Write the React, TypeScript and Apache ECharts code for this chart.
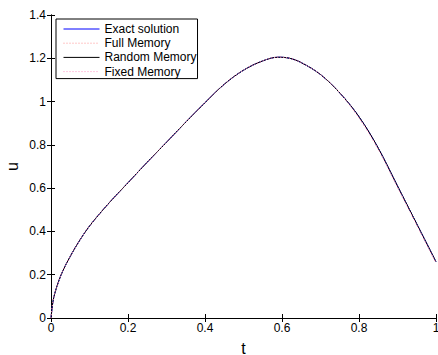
import React, { useEffect, useRef } from "react";
import * as echarts from "echarts";

// Solution u(t) sampled on [0, 1]
const tValues = [0, 0.005, 0.01, 0.02, 0.03, 0.05, 0.075, 0.1, 0.15, 0.2, 0.25, 0.3, 0.35, 0.4, 0.45, 0.5, 0.55, 0.59, 0.62, 0.65, 0.7, 0.75, 0.8, 0.85, 0.9, 0.95, 1.0];
const exactU = [0, 0.075, 0.115, 0.17, 0.215, 0.285, 0.36, 0.425, 0.53, 0.625, 0.72, 0.812, 0.905, 0.995, 1.08, 1.145, 1.188, 1.205, 1.2, 1.18, 1.125, 1.04, 0.93, 0.785, 0.61, 0.435, 0.26];
const fullMemoryU = [0, 0.075, 0.115, 0.17, 0.215, 0.285, 0.36, 0.425, 0.53, 0.625, 0.72, 0.812, 0.905, 0.995, 1.08, 1.145, 1.188, 1.205, 1.2, 1.18, 1.125, 1.04, 0.925, 0.78, 0.605, 0.43, 0.255];
const randomMemoryU = [0, 0.075, 0.115, 0.17, 0.215, 0.285, 0.36, 0.425, 0.53, 0.625, 0.72, 0.812, 0.905, 0.995, 1.08, 1.145, 1.188, 1.205, 1.2, 1.18, 1.125, 1.04, 0.93, 0.785, 0.61, 0.435, 0.26];
const fixedMemoryU = [0, 0.075, 0.115, 0.17, 0.215, 0.285, 0.36, 0.425, 0.53, 0.625, 0.72, 0.812, 0.905, 0.995, 1.08, 1.145, 1.188, 1.205, 1.2, 1.18, 1.125, 1.04, 0.925, 0.78, 0.605, 0.43, 0.255];

const seriesNames = ["Exact solution", "Full Memory", "Random Memory", "Fixed Memory"];
const xTicks = [0, 0.2, 0.4, 0.6, 0.8, 1];
const yTicks = [0, 0.2, 0.4, 0.6, 0.8, 1, 1.2, 1.4];

const FONT = "Liberation Sans, Arial, sans-serif";

const pairs = (ys: number[]) => tValues.map((t, i) => [t, ys[i]]);

export default function App() {
  const ref = useRef<HTMLDivElement>(null);

  useEffect(() => {
    if (!ref.current) return;
    const chart = echarts.init(ref.current, undefined, { renderer: "svg" });

    const frameLine = { show: true, lineStyle: { color: "#000", width: 1 } };
    const inTick = { show: true, inside: true, length: 4, lineStyle: { color: "#000", width: 1 } };
    const fmt = (v: number) => String(Math.round(v * 10) / 10);

    const lineSeries = (name: string, ys: number[], color: string, dotted: boolean) => ({
      name,
      type: "line",
      data: pairs(ys),
      smooth: 0.35,
      symbol: "none",
      color,
      lineStyle: { color, width: 1, type: dotted ? [1, 2] : "solid" },
    });

    chart.setOption({
      animation: false,
      backgroundColor: "#fff",
      textStyle: { fontFamily: FONT },
      grid: { left: 51, right: 2, top: 15, bottom: 37, containLabel: false, outerBoundsMode: "none" },
      legend: {
        orient: "vertical",
        left: 56,
        top: 19,
        data: seriesNames,
        itemWidth: 36,
        itemHeight: 14,
        itemGap: 2.2,
        padding: [4, 1, 1, 7],
        borderColor: "#000",
        borderWidth: 1,
        borderRadius: 0,
        backgroundColor: "#fff",
        itemStyle: { opacity: 0 },
        lineStyle: { width: 1 },
        textStyle: { fontFamily: FONT, fontSize: 12, color: "#000" },
      },
      xAxis: [
        {
          type: "value",
          min: 0,
          max: 1,
          interval: 0.2,
          name: "t",
          nameLocation: "middle",
          nameGap: 22,
          nameTextStyle: { fontFamily: FONT, fontSize: 16, color: "#000" },
          axisLine: frameLine,
          axisTick: inTick,
          splitLine: { show: false },
          axisLabel: {
            color: "#000",
            fontFamily: FONT,
            fontSize: 12,
            margin: 4,
            formatter: (v: number) => (xTicks.some((x) => Math.abs(x - v) < 1e-9) ? fmt(v) : ""),
          },
        },
        {
          type: "value",
          position: "top",
          min: 0,
          max: 1,
          interval: 0.2,
          axisLine: frameLine,
          axisTick: inTick,
          splitLine: { show: false },
          axisLabel: { show: false },
        },
      ],
      yAxis: [
        {
          type: "value",
          min: 0,
          max: 1.4,
          interval: 0.2,
          name: "u",
          nameLocation: "middle",
          nameGap: 31,
          nameMoveOverlap: false,
          nameRotate: 90,
          nameTextStyle: { fontFamily: FONT, fontSize: 16, color: "#000" },
          axisLine: frameLine,
          axisTick: inTick,
          splitLine: { show: false },
          axisLabel: {
            color: "#000",
            fontFamily: FONT,
            fontSize: 12,
            margin: 5,
            formatter: (v: number) => (yTicks.some((y) => Math.abs(y - v) < 1e-9) ? fmt(v) : ""),
          },
        },
        {
          type: "value",
          position: "right",
          min: 0,
          max: 1.4,
          interval: 0.2,
          axisLine: frameLine,
          axisTick: inTick,
          splitLine: { show: false },
          axisLabel: { show: false },
        },
      ],
      series: [
        lineSeries(seriesNames[0], exactU, "#0000ff", false),
        lineSeries(seriesNames[1], fullMemoryU, "#ff9090", true),
        lineSeries(seriesNames[2], randomMemoryU, "#000000", false),
        lineSeries(seriesNames[3], fixedMemoryU, "#ff90c0", true),
      ],
    });

    return () => chart.dispose();
  }, []);

  return (
    <div
      ref={ref}
      style={{ position: "absolute", left: 0, top: 0, width: 438, height: 355, background: "#fff" }}
    />
  );
}
